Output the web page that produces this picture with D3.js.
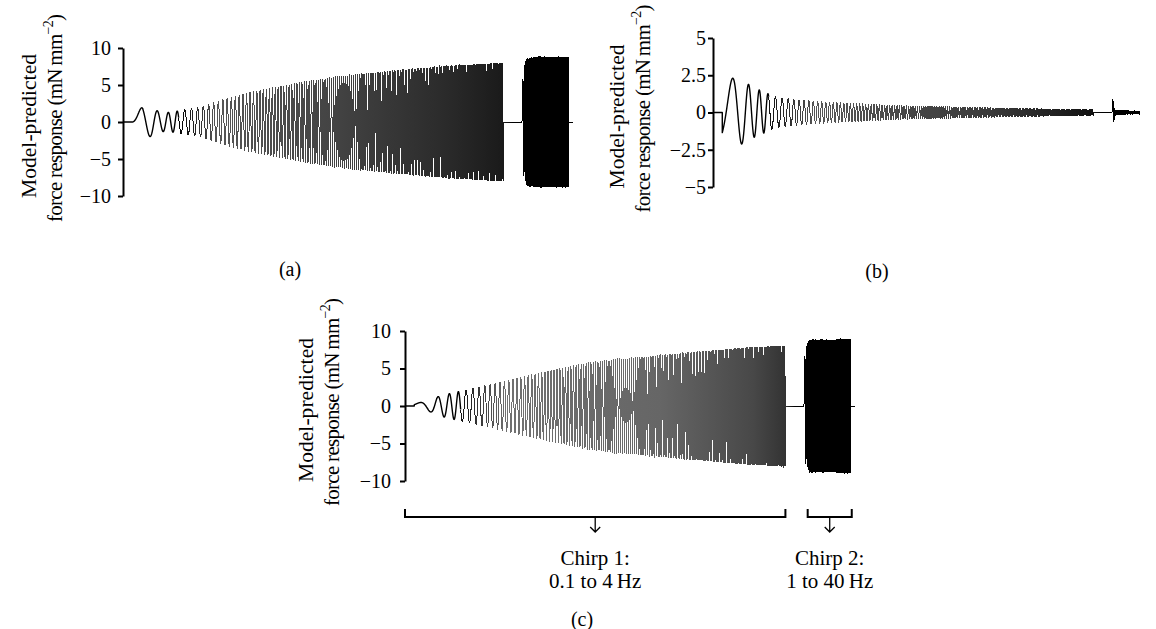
<!DOCTYPE html>
<html>
<head>
<meta charset="utf-8">
<script src="https://cdn.jsdelivr.net/npm/d3@7"></script>
<style>
  html, body { margin: 0; padding: 0; background: #fff; }
  svg { display: block; }
  text { font-family: "Liberation Serif", "DejaVu Serif", serif; fill: #000; }
</style>
</head>
<body>
<svg id="chart" width="1156" height="629"></svg>
<script>
// Stimulus protocol (seconds): quiet lead, chirp 1, pause, chirp 2, quiet tail
const chirp1 = { start: 2, duration: 80, f0: 0.1, f1: 4 };
const chirp2 = { start: 86, duration: 10, f0: 1, f1: 40 };
const recordEnd = 97;

// Response envelopes: [time into chirp (s), amplitude (mN mm^-2)]
const envA1 = [[0,0],[2.2,2.2],[4.3,1.9],[6,1.3],[8,1.3],[10,1.5],[14.6,2.0],[20,3.1],[25.4,4.0],[36.2,5.3],[47,6.3],[57.8,7.0],[68.6,7.6],[80,8.0]];
const envA2 = [[0,3.5],[0.3,7.0],[1,8.5],[3,8.8],[10,8.8]];
const envB1 = [[0,2.3],[2.7,2.3],[5.1,2.0],[6.6,1.7],[8.8,1.4],[10.3,1.2],[11.8,1.0],[16,0.85],[23.9,0.67],[38.3,0.45],[55.5,0.32],[70,0.23],[80,0.18]];
const envB2 = [[0,0.9],[0.3,0.85],[0.6,0.25],[1,0.12],[6,0.08],[10,0.05]];
const envC1 = [[0,0.3],[0.8,0.4],[3.6,0.8],[5.3,1.3],[6.6,1.5],[7.9,1.7],[16.3,2.85],[27,4.4],[37.9,5.75],[42.8,6.1],[57.3,7.0],[71.7,7.8],[80,8.05]];
const envC2 = [[0,5.0],[0.3,7.5],[1.2,8.8],[10,8.9]];

// Response phase relative to the stimulus (cycles)
const phaseA = 0, phaseB = -0.1, phaseC = 0.1;
// End of the visible trace per panel (s)
const endA = 97, endB = 92, endC = 97;

// Axis ticks
const ticksAC = [-10, -5, 0, 5, 10];
const ticksB = [-5, -2.5, 0, 2.5, 5];

const titleLine1 = "Model-predicted";
const panelLabels = ["(a)", "(b)", "(c)"];
const chirpLabels = [["Chirp 1:", "0.1 to 4\u2009Hz"], ["Chirp 2:", "1 to 40\u2009Hz"]];

const svg = d3.select("#chart");
const defs = svg.append("defs");

function envelopeScale(env) {
  return d3.scaleLinear().domain(env.map(d => d[0])).range(env.map(d => d[1])).clamp(true);
}

// Sample the modelled response of one panel
function response(env1, env2, phase, tEnd) {
  const e1 = envelopeScale(env1), e2 = envelopeScale(env2);
  const pts = [];
  const k1 = (chirp1.f1 - chirp1.f0) / chirp1.duration;
  const k2 = (chirp2.f1 - chirp2.f0) / chirp2.duration;
  pts.push([0, 0], [chirp1.start, 0]);
  for (let t = chirp1.start; t <= chirp1.start + chirp1.duration; t += 0.004) {
    const tau = t - chirp1.start;
    const cyc = chirp1.f0 * tau + 0.5 * k1 * tau * tau + phase;
    pts.push([t, e1(tau) * Math.sin(2 * Math.PI * cyc)]);
  }
  pts.push([chirp1.start + chirp1.duration, 0], [chirp2.start, 0]);
  const c2End = Math.min(chirp2.start + chirp2.duration, tEnd);
  for (let t = chirp2.start; t <= c2End; t += 0.0004) {
    const tau = t - chirp2.start;
    const cyc = chirp2.f0 * tau + 0.5 * k2 * tau * tau;
    pts.push([t, e2(tau) * Math.sin(2 * Math.PI * cyc)]);
  }
  if (tEnd > c2End) pts.push([c2End, 0], [tEnd, 0]);
  return pts;
}

function drawPanel(cfg) {
  const g = svg.append("g");
  const x = d3.scaleLinear().domain([0, recordEnd]).range([cfg.x0, cfg.x0 + 450]);
  const y = d3.scaleLinear().domain([cfg.ticks[0], cfg.ticks[cfg.ticks.length - 1]]).range([cfg.yBottom, cfg.yTop]);
  const line = d3.line().x(d => x(d[0])).y(d => y(d[1]));

  const data = response(cfg.env1, cfg.env2, cfg.phase, cfg.tEnd);
  const split = chirp1.start + 10;

  // Tone of the dense part of the trace, graded along time
  const gid = "tone-" + cfg.label.replace(/\W/g, "");
  const grad = defs.append("linearGradient").attr("id", gid)
    .attr("gradientUnits", "userSpaceOnUse")
    .attr("x1", x(0)).attr("x2", x(recordEnd)).attr("y1", 0).attr("y2", 0);
  cfg.tone.forEach(([t, c]) => {
    grad.append("stop").attr("offset", (x(t) - x(0)) / (x(recordEnd) - x(0))).attr("stop-color", c);
  });

  // slow opening cycles
  g.append("path")
    .attr("d", line(data.filter(d => d[0] <= split)))
    .attr("fill", "none").attr("stroke", "#000")
    .attr("stroke-width", 1.4).attr("stroke-linejoin", "round");
  // fast remainder, rasterised without smoothing
  g.append("path")
    .attr("d", line(data.filter(d => d[0] >= split)))
    .attr("fill", "none").attr("stroke", `url(#${gid})`)
    .attr("stroke-width", 1)
    .attr("shape-rendering", "crispEdges");

  const axis = g.append("g")
    .attr("transform", `translate(${cfg.x0},0)`)
    .call(d3.axisLeft(y).tickValues(cfg.ticks).tickSize(5).tickSizeOuter(0).tickPadding(cfg.pad).tickFormat(d3.format("")));
  axis.select(".domain").attr("stroke-width", 2);
  axis.selectAll(".tick line").attr("stroke-width", 2);
  axis.selectAll(".tick text").attr("font-size", 20).attr("font-family", "Liberation Serif");

  // Two-line y-axis title
  const yMid = (cfg.yTop + cfg.yBottom) / 2;
  g.append("text")
    .attr("transform", `translate(${cfg.titleX},${yMid + 4}) rotate(-90)`)
    .attr("text-anchor", "middle").attr("font-size", 21.5)
    .attr("textLength", 144).attr("lengthAdjust", "spacing")
    .text(titleLine1);
  const t2 = g.append("text")
    .attr("transform", `translate(${cfg.titleX + 26},${yMid - 4}) rotate(-90)`)
    .attr("text-anchor", "middle").attr("font-size", 21)
    .attr("textLength", 208).attr("lengthAdjust", "spacing");
  t2.append("tspan").text("force response (mN\u2009mm");
  t2.append("tspan").attr("dy", -9).attr("font-size", 14).text("\u22122");
  t2.append("tspan").attr("dy", 9).text(")");

  svg.append("text")
    .attr("x", cfg.labelX).attr("y", cfg.labelY)
    .attr("text-anchor", "middle").attr("font-size", 20)
    .text(cfg.label);
  return x;
}

drawPanel({ x0: 123, yTop: 48, yBottom: 196, ticks: ticksAC, env1: envA1, env2: envA2, phase: phaseA, tEnd: endA,
  pad: 7, titleX: 36, label: panelLabels[0], labelX: 290, labelY: 276,
  tone: [[12, "#000"], [20, "#555"], [45, "#444"], [70, "#2a2a2a"], [82, "#1a1a1a"], [84, "#000"]] });
drawPanel({ x0: 713, yTop: 38, yBottom: 187, ticks: ticksB, env1: envB1, env2: envB2, phase: phaseB, tEnd: endB,
  pad: 2, titleX: 624, label: panelLabels[1], labelX: 877, labelY: 278,
  tone: [[12, "#111"], [22, "#555"], [60, "#3a3a3a"], [82, "#111"], [84, "#000"]] });
const xc = drawPanel({ x0: 405, yTop: 331, yBottom: 481, ticks: ticksAC, env1: envC1, env2: envC2, phase: phaseC, tEnd: endC,
  pad: 9, titleX: 313, label: panelLabels[2], labelX: 582, labelY: 626,
  tone: [[12, "#111"], [22, "#707070"], [55, "#666"], [75, "#484848"], [82, "#333"], [84, "#000"]] });

// Brackets marking the two chirps under panel (c)
const spans = [[0, chirp1.start + chirp1.duration], [chirp2.start + 0.8, chirp2.start + chirp2.duration + 0.3]];
const by = 517;
spans.forEach((s, i) => {
  const xa = xc(s[0]), xb = xc(s[1]), xm = (xa + xb) / 2;
  svg.append("path")
    .attr("d", `M${xa},${by - 8}V${by}H${xb}V${by - 8}`)
    .attr("fill", "none").attr("stroke", "#000").attr("stroke-width", 2);
  svg.append("path")
    .attr("d", `M${xm},${by}V${by + 15}M${xm - 5},${by + 10}L${xm},${by + 15}L${xm + 5},${by + 10}`)
    .attr("fill", "none").attr("stroke", "#000").attr("stroke-width", 1.3);
  svg.append("text").attr("x", xm).attr("y", 565).attr("text-anchor", "middle").attr("font-size", 21).text(chirpLabels[i][0]);
  svg.append("text").attr("x", xm).attr("y", 588).attr("text-anchor", "middle").attr("font-size", 21).text(chirpLabels[i][1]);
});
</script>
</body>
</html>
